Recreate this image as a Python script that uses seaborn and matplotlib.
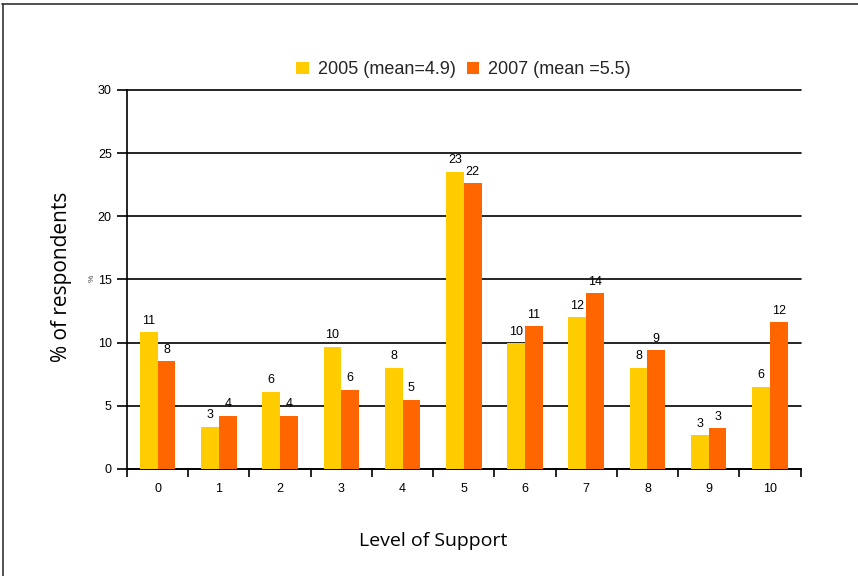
import matplotlib
matplotlib.use("Agg")
import matplotlib.pyplot as plt
import seaborn as sns
import pandas as pd
from matplotlib.lines import Line2D
from matplotlib.ticker import FixedLocator

categories = ["0", "1", "2", "3", "4", "5", "6", "7", "8", "9", "10"]
values_2005 = [10.8, 3.35, 6.1, 9.65, 8.0, 23.5, 9.95, 12.0, 8.0, 2.67, 6.5]
values_2007 = [8.5, 4.2, 4.2, 6.25, 5.45, 22.6, 11.3, 13.9, 9.4, 3.2, 11.6]
labels_2005 = ["11", "3", "6", "10", "8", "23", "10", "12", "8", "3", "6"]
labels_2007 = ["8", "4", "4", "6", "5", "22", "11", "14", "9", "3", "12"]
series_names = ["2005 (mean=4.9)", "2007 (mean =5.5)"]
yticks = [0, 5, 10, 15, 20, 25, 30]

df = pd.DataFrame({
    "level": categories * 2,
    "value": values_2005 + values_2007,
    "series": [series_names[0]] * len(categories) + [series_names[1]] * len(categories),
})

sns.set_theme(style="white")
plt.rcParams["font.family"] = ["Liberation Sans", "DejaVu Sans"]

fig = plt.figure(figsize=(8.58, 5.76), dpi=100)
ax = fig.add_axes([0.148, 0.186, 0.785, 0.658])

palette = ["#FFCC00", "#FF6600"]
sns.barplot(data=df, x="level", y="value", hue="series", order=categories,
            hue_order=series_names, palette=palette, width=0.58, saturation=1,
            ax=ax, zorder=3, linewidth=0)

ax.set_xlim(-0.5, len(categories) - 0.5)
ax.set_ylim(0, 30)
ax.set_yticks(yticks)
ax.yaxis.grid(True, color="black", linewidth=1.2, zorder=0)
ax.set_axisbelow(True)
for gl in ax.get_ygridlines():
    gl.set_clip_on(False)
for s in ["top", "right"]:
    ax.spines[s].set_visible(False)
for s in ["left", "bottom"]:
    ax.spines[s].set_color("black")
    ax.spines[s].set_linewidth(1.2)

ax.tick_params(axis="x", which="major", length=0, labelsize=9, pad=10, colors="black")
ax.xaxis.set_minor_locator(FixedLocator([i - 0.5 for i in range(len(categories) + 1)]))
ax.tick_params(axis="x", which="minor", bottom=True, length=6, width=1.2, color="black", direction="out")
ax.tick_params(axis="y", left=True, length=7, width=1.2, labelsize=9, pad=4, colors="black", direction="out")

ax.set_xlabel("")
ax.set_ylabel("")

for cont, labs in zip(ax.containers, [labels_2005, labels_2007]):
    ax.bar_label(cont, labels=labs, padding=4, fontsize=9, color="black")

ax.legend(loc="center", bbox_to_anchor=(0.5, 1.053), ncol=2, frameon=False,
          fontsize=13, handlelength=0.7, handleheight=0.7, handletextpad=0.5,
          columnspacing=0.6)

fig.text(0.072, 0.52, "% of respondents", rotation=90, ha="center", va="center",
         fontsize=15, family=["Open Sans", "DejaVu Sans"], color="black")
fig.text(0.107, 0.516, "%", rotation=90, ha="center", va="center", fontsize=6, color="#444444")
fig.text(0.505, 0.06, "Level of Support", ha="center", va="center",
         fontsize=14, family=["Open Sans", "DejaVu Sans"], color="black")

# figure border: top and left edges only
fig.add_artist(Line2D([0.002, 1.0], [0.993, 0.993], transform=fig.transFigure,
                      color="#333333", linewidth=1.2))
fig.add_artist(Line2D([0.003, 0.003], [0.0, 0.993], transform=fig.transFigure,
                      color="#333333", linewidth=1.2))

fig.savefig("out.png", dpi=100)
